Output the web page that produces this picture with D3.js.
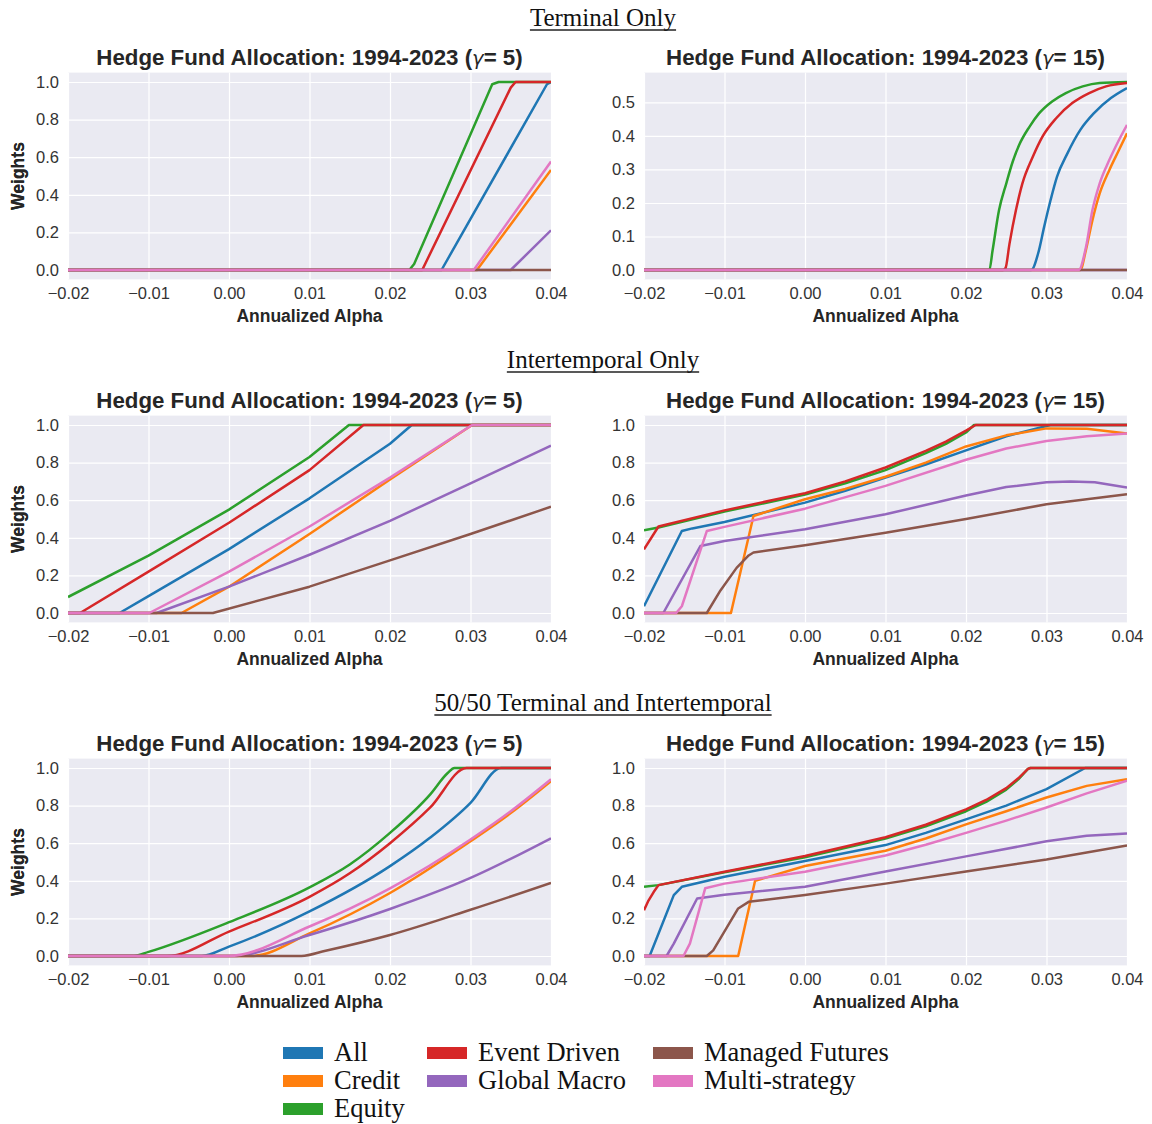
<!DOCTYPE html>
<html>
<head>
<meta charset="utf-8">
<script src="https://cdn.jsdelivr.net/npm/d3@7"></script>
<style>
  body { margin: 0; background: #ffffff; }
  svg { display: block; }
</style>
</head>
<body>
<svg id="chart" width="1152" height="1124"></svg>
<script>
// ---- Series, ticks and headings ----
const seriesNames = ["All", "Credit", "Equity", "Event Driven", "Global Macro", "Managed Futures", "Multi-strategy"];
const seriesColors = ["#1f77b4", "#ff7f0e", "#2ca02c", "#d62728", "#9467bd", "#8c564b", "#e377c2"];
const xTicks = [-0.02, -0.01, 0.00, 0.01, 0.02, 0.03, 0.04];
const yTicksUnit = [0.0, 0.2, 0.4, 0.6, 0.8, 1.0];
const yTicksHalf = [0.0, 0.1, 0.2, 0.3, 0.4, 0.5];
const sectionTitles = ["Terminal Only", "Intertemporal Only", "50/50 Terminal and Intertemporal"];
const gammas = [5, 15];

// Each panel: one [alpha, weight] list per series, in seriesNames order.
const terminalG5 = [
  [[-0.02, 0], [0.0264, 0], [0.0395, 0.988], [0.04, 1.0]],
  [[-0.02, 0], [0.0308, 0], [0.04, 0.532]],
  [[-0.02, 0], [0.0224, 0], [0.0230, 0.032], [0.0327, 0.988], [0.0335, 1.0], [0.04, 1.0]],
  [[-0.02, 0], [0.0240, 0], [0.0350, 0.97], [0.0356, 1.0], [0.04, 1.0]],
  [[-0.02, 0], [0.0350, 0], [0.04, 0.211]],
  [[-0.02, 0], [0.04, 0]],
  [[-0.02, 0], [0.0304, 0], [0.04, 0.577]]
];

const terminalG15 = [
  [[-0.02, 0], [0.0281, 0], [0.0290, 0.053], [0.0297, 0.128], [0.0305, 0.208], [0.0313, 0.278], [0.0326, 0.348],
   [0.0342, 0.418], [0.0359, 0.468], [0.0380, 0.513], [0.04, 0.543]],
  [[-0.02, 0], [0.0342, 0], [0.0349, 0.060], [0.0357, 0.148], [0.0366, 0.228], [0.0378, 0.298], [0.0390, 0.358], [0.04, 0.408]],
  [[-0.02, 0], [0.0229, 0], [0.0233, 0.058], [0.0241, 0.178], [0.0250, 0.258], [0.0258, 0.323], [0.0266, 0.373],
   [0.0279, 0.428], [0.0291, 0.468], [0.0307, 0.503], [0.0324, 0.528], [0.0345, 0.548], [0.0366, 0.558], [0.04, 0.561]],
  [[-0.02, 0], [0.0246, 0], [0.0249, 0.005], [0.0254, 0.078], [0.0262, 0.178], [0.0270, 0.258], [0.0283, 0.338],
   [0.0295, 0.398], [0.0312, 0.453], [0.0332, 0.498], [0.0353, 0.528], [0.0374, 0.548], [0.04, 0.558]],
  [[-0.02, 0], [0.04, 0]],
  [[-0.02, 0], [0.04, 0]],
  [[-0.02, 0], [0.0340, 0], [0.0349, 0.068], [0.0357, 0.178], [0.0366, 0.258], [0.0378, 0.328], [0.0390, 0.388], [0.04, 0.433]]
];

const intertemporalG5 = [
  [[-0.02, 0], [-0.0136, 0], [-0.01, 0.09], [0.00, 0.34], [0.01, 0.61], [0.02, 0.90], [0.0227, 1.0], [0.04, 1.0]],
  [[-0.02, 0], [-0.0059, 0], [0.00, 0.14], [0.01, 0.42], [0.02, 0.71], [0.0302, 1.0], [0.04, 1.0]],
  [[-0.02, 0.085], [-0.01, 0.305], [0.00, 0.55], [0.01, 0.83], [0.0149, 1.0], [0.04, 1.0]],
  [[-0.02, 0], [-0.0185, 0], [-0.01, 0.22], [0.00, 0.48], [0.01, 0.76], [0.0167, 1.0], [0.04, 1.0]],
  [[-0.02, 0], [-0.0090, 0], [0.00, 0.14], [0.01, 0.31], [0.02, 0.49], [0.03, 0.69], [0.04, 0.89]],
  [[-0.02, 0], [-0.0020, 0], [0.01, 0.14], [0.02, 0.28], [0.03, 0.42], [0.04, 0.565]],
  [[-0.02, 0], [-0.0099, 0], [0.00, 0.22], [0.01, 0.46], [0.02, 0.72], [0.0302, 1.0], [0.04, 1.0]]
];

const intertemporalG15 = [
  [[-0.02, 0.036], [-0.0153, 0.436], [-0.014, 0.45], [-0.01, 0.484], [0.00, 0.587], [0.005, 0.65], [0.01, 0.72],
   [0.015, 0.79], [0.02, 0.865], [0.025, 0.94], [0.03, 0.995], [0.0305, 1.0], [0.04, 1.0]],
  [[-0.02, 0], [-0.0092, 0], [-0.0064, 0.516], [0.00, 0.605], [0.005, 0.66], [0.01, 0.725], [0.015, 0.80],
   [0.02, 0.886], [0.025, 0.945], [0.03, 0.982], [0.035, 0.98], [0.04, 0.955]],
  [[-0.02, 0.44], [-0.0182, 0.455], [-0.01, 0.54], [0.00, 0.63], [0.005, 0.69], [0.01, 0.76], [0.015, 0.85],
   [0.0175, 0.90], [0.02, 0.96], [0.021, 1.0], [0.04, 1.0]],
  [[-0.02, 0.338], [-0.0182, 0.46], [-0.01, 0.546], [0.00, 0.637], [0.005, 0.70], [0.01, 0.774], [0.015, 0.862],
   [0.0175, 0.912], [0.02, 0.97], [0.0212, 1.0], [0.04, 1.0]],
  [[-0.02, 0], [-0.0176, 0], [-0.013, 0.356], [-0.01, 0.383], [0.00, 0.446], [0.01, 0.525], [0.02, 0.625],
   [0.025, 0.67], [0.03, 0.695], [0.033, 0.70], [0.036, 0.695], [0.04, 0.667]],
  [[-0.02, 0], [-0.0122, 0], [-0.0105, 0.12], [-0.0085, 0.24], [-0.007, 0.306], [-0.0064, 0.322], [0.00, 0.36],
   [0.01, 0.427], [0.02, 0.50], [0.03, 0.578], [0.04, 0.632]],
  [[-0.02, 0], [-0.016, 0], [-0.0153, 0.036], [-0.0122, 0.436], [-0.01, 0.458], [0.00, 0.555], [0.01, 0.676],
   [0.02, 0.815], [0.025, 0.875], [0.03, 0.915], [0.035, 0.94], [0.04, 0.955]]
];

const fiftyFiftyG5 = [
  [[-0.02, 0], [-0.0034, 0], [0.00, 0.05], [0.01, 0.237], [0.02, 0.478], [0.025, 0.63], [0.03, 0.815], [0.0338, 1.0], [0.04, 1.0]],
  [[-0.02, 0], [0.0028, 0], [0.01, 0.12], [0.02, 0.335], [0.03, 0.61], [0.035, 0.76], [0.04, 0.93]],
  [[-0.02, 0], [-0.0118, 0], [-0.01, 0.022], [0.00, 0.18], [0.01, 0.365], [0.015, 0.487], [0.02, 0.655], [0.025, 0.86],
   [0.0272, 0.975], [0.028, 1.0], [0.04, 1.0]],
  [[-0.02, 0], [-0.0077, 0], [0.00, 0.13], [0.01, 0.315], [0.015, 0.44], [0.02, 0.60], [0.025, 0.79], [0.0295, 1.0], [0.04, 1.0]],
  [[-0.02, 0], [0.0003, 0], [0.01, 0.112], [0.02, 0.25], [0.03, 0.415], [0.04, 0.626]],
  [[-0.02, 0], [0.009, 0], [0.012, 0.028], [0.02, 0.112], [0.03, 0.246], [0.04, 0.389]],
  [[-0.02, 0], [-0.0001, 0], [0.01, 0.157], [0.02, 0.36], [0.03, 0.62], [0.035, 0.77], [0.04, 0.94]]
];

const fiftyFiftyG15 = [
  [[-0.02, 0], [-0.0193, 0], [-0.0163, 0.324], [-0.0153, 0.368], [-0.01, 0.422], [0.00, 0.505], [0.01, 0.59],
   [0.015, 0.655], [0.02, 0.727], [0.025, 0.80], [0.03, 0.888], [0.0348, 1.0], [0.04, 1.0]],
  [[-0.02, 0], [-0.0083, 0], [-0.0062, 0.40], [0.00, 0.479], [0.01, 0.56], [0.015, 0.625], [0.02, 0.70], [0.025, 0.77],
   [0.03, 0.843], [0.035, 0.905], [0.04, 0.94]],
  [[-0.02, 0.368], [-0.0182, 0.377], [-0.01, 0.446], [0.00, 0.525], [0.01, 0.625], [0.015, 0.69], [0.02, 0.77],
   [0.0225, 0.82], [0.025, 0.885], [0.0265, 0.94], [0.0277, 0.995], [0.028, 1.0], [0.04, 1.0]],
  [[-0.02, 0.244], [-0.0195, 0.29], [-0.0188, 0.34], [-0.0182, 0.377], [-0.01, 0.448], [0.00, 0.532], [0.01, 0.632],
   [0.015, 0.698], [0.02, 0.78], [0.0225, 0.83], [0.025, 0.893], [0.0265, 0.945], [0.0277, 0.995], [0.028, 1.0], [0.04, 1.0]],
  [[-0.02, 0], [-0.0172, 0], [-0.0163, 0.066], [-0.0134, 0.306], [-0.01, 0.326], [0.00, 0.368], [0.01, 0.45],
   [0.02, 0.53], [0.03, 0.61], [0.035, 0.64], [0.04, 0.652]],
  [[-0.02, 0], [-0.0122, 0], [-0.0114, 0.03], [-0.0083, 0.253], [-0.007, 0.288], [0.00, 0.324], [0.01, 0.385],
   [0.02, 0.45], [0.03, 0.513], [0.04, 0.588]],
  [[-0.02, 0], [-0.0151, 0], [-0.0143, 0.066], [-0.0124, 0.36], [-0.01, 0.385], [0.00, 0.448], [0.01, 0.535],
   [0.015, 0.592], [0.02, 0.655], [0.025, 0.72], [0.03, 0.79], [0.035, 0.865], [0.04, 0.932]]
];

// ---- Layout ----
const svg = d3.select("#chart");
const plotW = 483, plotH = 206.8;
const colLeft = [68, 644];
const rowTop = [72.6, 415.6, 758.6];
const sans = "'Liberation Sans', Arial, Helvetica, sans-serif";
const serif = "'Liberation Serif', 'Times New Roman', Times, serif";
const bgColor = "#eaeaf2";
const inkColor = "#262626";

// smooth panels use a monotone curve, the piecewise-linear ones stay linear
const panels = [
  { row: 0, col: 0, data: terminalG5, yTicks: yTicksUnit, curve: d3.curveLinear },
  { row: 0, col: 1, data: terminalG15, yTicks: yTicksHalf, curve: d3.curveMonotoneX },
  { row: 1, col: 0, data: intertemporalG5, yTicks: yTicksUnit, curve: d3.curveLinear },
  { row: 1, col: 1, data: intertemporalG15, yTicks: yTicksUnit, curve: d3.curveLinear },
  { row: 2, col: 0, data: fiftyFiftyG5, yTicks: yTicksUnit, curve: d3.curveMonotoneX },
  { row: 2, col: 1, data: fiftyFiftyG15, yTicks: yTicksUnit, curve: d3.curveLinear }
];

const defs = svg.append("defs");
const fmtX = d3.format(".2f");
const fmtY = d3.format(".1f");

panels.forEach((p, i) => {
  const x0 = colLeft[p.col], y0 = rowTop[p.row];
  const g = svg.append("g").attr("transform", `translate(${x0},${y0})`);

  // y range padded by 5% of the data span on both sides
  const allW = p.data.flat().map(d => d[1]);
  const lo = d3.min(allW), hi = d3.max(allW);
  const pad = (hi - lo) * 0.05;
  const x = d3.scaleLinear().domain([-0.02, 0.04]).range([0, plotW]);
  const y = d3.scaleLinear().domain([lo - pad, hi + pad]).range([plotH, 0]);

  g.append("rect").attr("width", plotW).attr("height", plotH).attr("fill", bgColor);

  // grid + tick labels through d3 axes
  const xAxis = g.append("g").attr("transform", `translate(0,${plotH})`)
    .call(d3.axisBottom(x).tickValues(xTicks).tickFormat(fmtX).tickSize(-plotH).tickPadding(8));
  const yAxis = g.append("g")
    .call(d3.axisLeft(y).tickValues(p.yTicks).tickFormat(fmtY).tickSize(-plotW).tickPadding(9));
  [xAxis, yAxis].forEach(ax => {
    ax.select(".domain").remove();
    ax.selectAll(".tick line").attr("stroke", "#ffffff").attr("stroke-width", 1.2);
    ax.selectAll(".tick text").attr("fill", "#333333").style("font-family", sans).style("font-size", "16.5px");
  });

  const clipId = "clip" + i;
  defs.append("clipPath").attr("id", clipId)
    .append("rect").attr("width", plotW).attr("height", plotH);

  const line = d3.line().x(d => x(d[0])).y(d => y(d[1])).curve(p.curve);
  g.append("g").attr("clip-path", `url(#${clipId})`)
    .selectAll("path").data(p.data).join("path")
    .attr("d", line)
    .attr("fill", "none")
    .attr("stroke", (d, k) => seriesColors[k])
    .attr("stroke-width", 2.5)
    .attr("stroke-linejoin", "round");

  // title
  const t = g.append("text").attr("x", plotW / 2).attr("y", -8)
    .attr("text-anchor", "middle").attr("fill", inkColor)
    .style("font-family", sans).style("font-weight", "bold").style("font-size", "22.3px");
  t.append("tspan").text("Hedge Fund Allocation: 1994-2023 (");
  t.append("tspan").text("\u03b3").style("font-style", "italic").style("font-weight", "normal")
    .style("font-family", "'DejaVu Sans', sans-serif").style("font-size", "19.5px");
  t.append("tspan").text(`= ${gammas[p.col]})`);

  // axis labels
  g.append("text").attr("x", plotW / 2).attr("y", plotH + 43)
    .attr("text-anchor", "middle").attr("fill", inkColor)
    .style("font-family", sans).style("font-weight", "bold").style("font-size", "17.5px")
    .text("Annualized Alpha");
  g.append("text").attr("transform", `translate(${-x0 + 24},${plotH / 2}) rotate(-90)`)
    .attr("text-anchor", "middle").attr("fill", inkColor)
    .style("font-family", sans).style("font-weight", "bold").style("font-size", "17.5px")
    .text("Weights");
});

// ---- Section headings (underlined) ----
const headY = [26, 368, 711];
sectionTitles.forEach((s, r) => {
  const t = svg.append("text").attr("x", 603).attr("y", headY[r])
    .attr("text-anchor", "middle").attr("fill", "#111111")
    .style("font-family", serif).style("font-size", "25px").text(s);
  const w = t.node().getComputedTextLength();
  svg.append("line").attr("x1", 603 - w / 2).attr("x2", 603 + w / 2)
    .attr("y1", headY[r] + 4).attr("y2", headY[r] + 4)
    .attr("stroke", "#222222").attr("stroke-width", 1.5);
});

// ---- Legend: 3 columns holding 3, 2 and 2 entries ----
const legendColumns = [[0, 1, 2], [3, 4], [5, 6]];
const legendColX = [283, 427, 653];
const legendRowY = [1053, 1081, 1109];
const legend = svg.append("g");
legendColumns.forEach((col, c) => {
  col.forEach((k, r) => {
    const lx = legendColX[c], ly = legendRowY[r];
    legend.append("rect").attr("x", lx).attr("y", ly - 6).attr("width", 40).attr("height", 12)
      .attr("fill", seriesColors[k]);
    legend.append("text").attr("x", lx + 51).attr("y", ly + 8)
      .attr("fill", "#111111").style("font-family", serif).style("font-size", "26.5px")
      .text(seriesNames[k]);
  });
});
</script>
</body>
</html>
